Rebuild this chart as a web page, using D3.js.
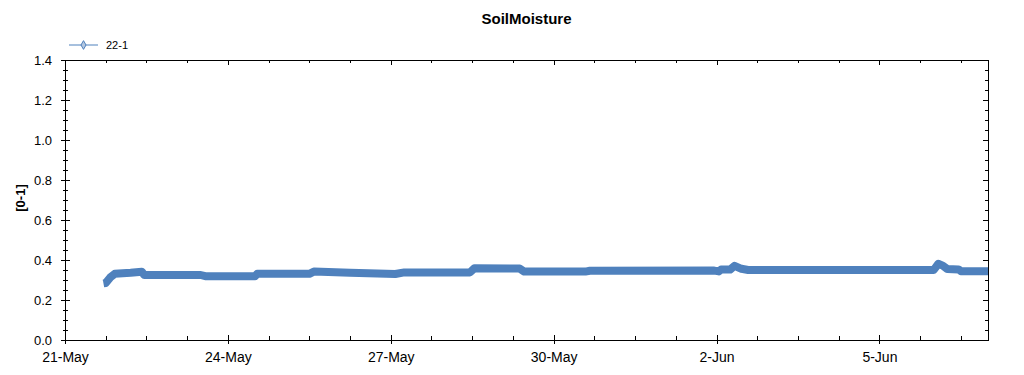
<!DOCTYPE html>
<html>
<head>
<meta charset="utf-8">
<script src="https://cdn.jsdelivr.net/npm/d3@7"></script>
<style>
  body { margin: 0; background: #fff; }
  svg { display: block; font-family: "Liberation Sans", Arial, sans-serif; }
  .axis path, .axis line { stroke: #000; shape-rendering: crispEdges; }
  .axis text { fill: #000; }
</style>
</head>
<body>
<div id="chart"></div>
<script>
// series 22-1
var times = [
  "2019-05-21 17:00", "2019-05-21 18:00", "2019-05-21 20:00", "2019-05-21 22:00",
  "2019-05-22 05:00", "2019-05-22 10:00", "2019-05-22 11:00", "2019-05-23 12:00",
  "2019-05-23 14:00", "2019-05-24 12:00", "2019-05-24 13:00", "2019-05-25 12:00",
  "2019-05-25 14:00", "2019-05-26 06:00", "2019-05-27 02:00", "2019-05-27 06:00",
  "2019-05-28 11:00", "2019-05-28 13:00", "2019-05-29 09:00", "2019-05-29 11:00",
  "2019-05-30 14:00", "2019-05-30 16:00", "2019-06-01 23:00", "2019-06-02 01:00",
  "2019-06-02 02:00", "2019-06-02 06:00", "2019-06-02 08:00", "2019-06-02 11:00",
  "2019-06-02 14:00", "2019-06-06 00:00", "2019-06-06 02:00", "2019-06-06 04:00",
  "2019-06-06 06:00", "2019-06-06 11:00", "2019-06-06 12:00", "2019-06-07 00:00"
];
var values = [
  0.283, 0.285, 0.313, 0.331,
  0.336, 0.341, 0.325, 0.325,
  0.319, 0.319, 0.331, 0.331,
  0.342, 0.336, 0.330, 0.338,
  0.338, 0.359, 0.357, 0.342,
  0.342, 0.346, 0.347, 0.343,
  0.352, 0.352, 0.371, 0.356,
  0.350, 0.350, 0.381, 0.372,
  0.355, 0.353, 0.344, 0.344
];
var seriesName = "22-1";
var xTickDates = ["2019-05-21", "2019-05-24", "2019-05-27", "2019-05-30", "2019-06-02", "2019-06-05"];
var xDomain = ["2019-05-21", "2019-06-07"];
var yTicks = [0, 0.2, 0.4, 0.6, 0.8, 1.0, 1.2, 1.4];

var parseTime = d3.timeParse("%Y-%m-%d %H:%M"),
    parseDay = d3.timeParse("%Y-%m-%d");

var data = times.map(function (t, i) { return {date: parseTime(t), value: values[i]}; });

var width = 1024, height = 375,
    margin = {top: 60, right: 36, bottom: 35, left: 65},
    innerWidth = width - margin.left - margin.right,
    innerHeight = height - margin.top - margin.bottom;

var svg = d3.select("#chart").append("svg")
  .attr("width", width)
  .attr("height", height);

var g = svg.append("g")
  .attr("transform", "translate(" + margin.left + "," + margin.top + ")");

var x = d3.scaleTime()
  .domain(xDomain.map(parseDay))
  .range([0, innerWidth]);

var y = d3.scaleLinear()
  .domain([0, 1.4])
  .range([innerHeight, 0]);

var majorX = xTickDates.map(parseDay);
var minorX = d3.range(0, 17 * 24 + 1, 18).map(function (h) { return d3.timeHour.offset(x.domain()[0], h); })
  .filter(function (d) { return !majorX.some(function (m) { return +m === +d; }); });
var minorY = d3.range(0, 1.4001, 0.05).filter(function (v) { return Math.abs(v * 5 - Math.round(v * 5)) > 1e-6; });

// tick marks only, no labels
function marks(axis, tx) {
  var a = g.append("g").attr("class", "axis");
  if (tx) a.attr("transform", tx);
  a.call(axis.tickFormat(""));
  a.select(".domain").remove();
  a.selectAll("text").remove();
}

// bottom axis
g.append("g").attr("class", "axis")
  .attr("transform", "translate(0," + innerHeight + ")")
  .call(d3.axisBottom(x).tickValues(majorX).tickSize(4).tickSizeOuter(0)
    .tickFormat(d3.timeFormat("%-d-%b")))
  .call(function (s) { s.selectAll("text").attr("font-size", "14px").attr("dy", "1.05em"); s.select(".domain").remove(); });
marks(d3.axisBottom(x).tickValues(majorX).tickSize(-5), "translate(0," + innerHeight + ")");
marks(d3.axisBottom(x).tickValues(minorX).tickSize(-4), "translate(0," + innerHeight + ")");

// top axis
marks(d3.axisTop(x).tickValues(majorX).tickSize(-5));
marks(d3.axisTop(x).tickValues(minorX).tickSize(-3));

// left axis
g.append("g").attr("class", "axis")
  .call(d3.axisLeft(y).tickValues(yTicks).tickSize(4).tickPadding(9).tickFormat(d3.format(".1f")))
  .call(function (s) { s.selectAll("text").attr("font-size", "13px"); s.select(".domain").remove(); });
marks(d3.axisLeft(y).tickValues(yTicks).tickSize(-5));
marks(d3.axisLeft(y).tickValues(minorY).tickSize(2));
marks(d3.axisLeft(y).tickValues(minorY).tickSize(-3));

// right axis
marks(d3.axisRight(y).tickValues(yTicks).tickSize(-5), "translate(" + innerWidth + ",0)");
marks(d3.axisRight(y).tickValues(minorY).tickSize(-3), "translate(" + innerWidth + ",0)");

// frame
g.append("rect")
  .attr("width", innerWidth)
  .attr("height", innerHeight)
  .attr("fill", "none")
  .attr("stroke", "#000")
  .attr("shape-rendering", "crispEdges");

// the series
var line = d3.line()
  .x(function (d) { return x(d.date); })
  .y(function (d) { return y(d.value); });

g.append("path")
  .datum(data)
  .attr("fill", "none")
  .attr("stroke", "#4f81bd")
  .attr("stroke-width", 8)
  .attr("stroke-linejoin", "round")
  .attr("d", line);

// title
svg.append("text")
  .attr("x", margin.left + innerWidth / 2)
  .attr("y", 24)
  .attr("text-anchor", "middle")
  .attr("font-size", "15px")
  .attr("font-weight", "bold")
  .text("SoilMoisture");

// y axis title
svg.append("text")
  .attr("transform", "translate(25," + (margin.top + innerHeight / 2 - 2) + ") rotate(-90)")
  .attr("text-anchor", "middle")
  .attr("font-size", "13px")
  .attr("font-weight", "bold")
  .text("[0-1]");

// legend
var legend = svg.append("g").attr("transform", "translate(69,45)");
legend.append("line")
  .attr("x1", 0).attr("x2", 29)
  .attr("stroke", "#4f81bd")
  .attr("stroke-width", 1);
legend.append("path")
  .attr("transform", "translate(14.5,0)")
  .attr("d", d3.symbol(d3.symbolDiamond, 22)())
  .attr("fill", "#b4c7e0")
  .attr("stroke", "#4f81bd");
legend.append("text")
  .attr("x", 37)
  .attr("y", 4)
  .attr("font-size", "11px")
  .text(seriesName);
</script>
</body>
</html>
